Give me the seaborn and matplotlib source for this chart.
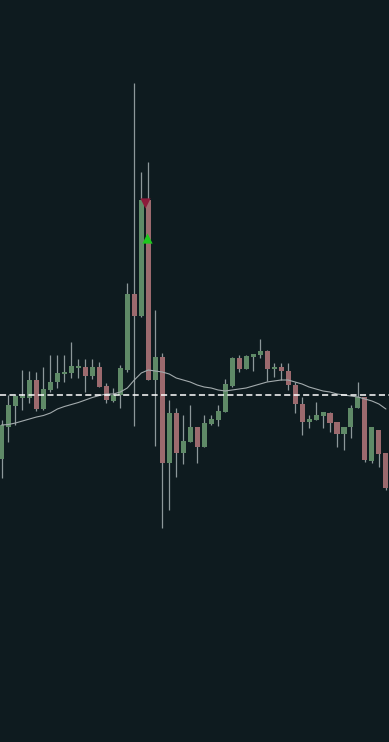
import numpy as np
import pandas as pd
import matplotlib
matplotlib.use("Agg")
import matplotlib.pyplot as plt
import seaborn as sns

# ---- data (price units) ----
opens = [28.3, 31.5, 33.6, 34.4, 34.4, 36.2, 33.3, 35.2, 36.0, 36.8,
         36.9, 37.4, 37.5, 36.6, 37.5, 35.6, 34.1, 34.7, 37.2, 44.8,
         42.6, 54.2, 36.2, 38.5, 27.9, 32.9, 28.9, 30.0, 31.5, 29.5,
         31.8, 32.2, 33.0, 35.6, 38.4, 37.3, 38.5, 38.7, 39.1, 37.3,
         37.5, 37.1, 35.7, 33.8, 32.0, 32.2, 32.6, 32.9, 32.0, 30.8,
         31.5, 33.4, 34.5, 28.1, 31.2, 28.9]
highs = [32.2, 34.7, 34.8, 37.2, 37.1, 37.0, 37.5, 38.7, 38.7, 38.7,
         40.0, 38.3, 38.3, 38.3, 38.0, 35.9, 35.4, 37.7, 45.9, 65.9,
         57.0, 58.0, 43.2, 38.9, 34.2, 33.4, 32.7, 33.7, 31.5, 32.7,
         32.7, 33.7, 36.3, 38.5, 38.7, 38.7, 38.8, 40.3, 39.2, 37.9,
         37.9, 37.9, 36.0, 34.5, 32.7, 34.0, 33.0, 33.0, 32.0, 31.5,
         33.7, 36.0, 34.5, 31.5, 31.2, 28.9]
lows = [26.4, 30.0, 31.7, 33.2, 33.9, 33.1, 33.2, 35.0, 35.4, 36.0,
        36.4, 36.4, 35.0, 36.3, 35.5, 33.9, 34.0, 33.4, 37.0, 31.6,
        42.5, 36.2, 29.6, 21.4, 23.2, 26.5, 27.8, 30.0, 27.9, 29.5,
        31.7, 31.6, 33.0, 35.5, 37.0, 37.3, 37.1, 38.4, 36.1, 36.5,
        36.2, 35.2, 32.9, 30.7, 31.4, 32.2, 31.4, 31.0, 29.5, 29.2,
        30.4, 33.4, 28.0, 27.9, 27.5, 25.2]
closes = [31.7, 33.7, 34.6, 34.6, 36.2, 33.3, 35.3, 36.0, 36.9, 37.0,
          37.6, 37.6, 36.6, 37.5, 35.5, 34.2, 34.7, 37.4, 44.8, 42.6,
          54.2, 36.2, 38.5, 27.9, 32.9, 28.9, 30.1, 31.5, 29.5, 31.9,
          32.3, 33.1, 35.8, 38.4, 37.3, 38.6, 38.8, 39.1, 37.3, 37.5,
          37.1, 35.7, 33.8, 32.0, 32.3, 32.7, 33.0, 31.9, 30.8, 31.5,
          33.4, 34.5, 28.2, 31.5, 28.8, 25.4]
moving_avg = [31.7, 31.75, 31.9, 32.1, 32.3, 32.5, 32.65, 32.9, 33.3, 33.55,
              33.75, 33.95, 34.2, 34.45, 34.65, 34.8, 34.8, 35.0, 35.4, 36.2,
              36.9, 37.2, 37.1, 37.0, 36.8, 36.4, 36.2, 36.0, 35.7, 35.5,
              35.4, 35.2, 35.1, 35.2, 35.3, 35.4, 35.6, 35.8, 36.0, 36.1,
              36.2, 36.2, 36.0, 35.8, 35.5, 35.3, 35.1, 35.0, 34.8, 34.7,
              34.6, 34.5, 34.3, 34.1, 33.8, 33.3]
reference_level = 34.75
sell_signal_x = [20.46]
sell_signal_y = [53.9]
buy_signal_x = [20.8]
buy_signal_y = [50.4]

BG = "#0e1b1f"
UP = "#5f8a67"
DOWN = "#9c6a6e"
WICK = "#8d989a"

sns.set_theme(style="dark", rc={"axes.facecolor": BG, "figure.facecolor": BG})

df = pd.DataFrame({"i": np.arange(len(opens)), "open": opens, "high": highs,
                   "low": lows, "close": closes, "ma": moving_avg})
df["up"] = df["close"] >= df["open"]

fig = plt.figure(figsize=(3.89, 7.42), dpi=100)
ax = fig.add_axes([0, 0, 1, 1])
ax.set_facecolor(BG)

ax.vlines(df["i"], df["low"], df["high"], color=WICK, linewidth=0.9, zorder=1)
body_bottom = np.minimum(df["open"], df["close"])
body_height = np.maximum(np.abs(df["close"] - df["open"]), 0.25)
colors = [UP if u else DOWN for u in df["up"]]
ax.bar(df["i"], body_height, bottom=body_bottom, width=0.72, color=colors,
       linewidth=0, zorder=2)

sns.lineplot(data=df, x="i", y="ma", ax=ax, color="#a3abad", linewidth=0.8,
             zorder=3)
ax.axhline(reference_level, color="white", linestyle=(0, (4, 2.2)),
           linewidth=1.1, zorder=4)

sns.scatterplot(x=sell_signal_x, y=sell_signal_y, ax=ax, marker="v", s=55,
                color="#8c1a3a", linewidth=0, zorder=5)
sns.scatterplot(x=buy_signal_x, y=buy_signal_y, ax=ax, marker="^", s=55,
                color="#1ec81e", linewidth=0, zorder=5)

ax.set_xlim(-0.215, 55.44)
ax.set_ylim(0, 74.2)
ax.set_axis_off()
ax.grid(False)

fig.savefig("out.png", dpi=100, facecolor=BG)
